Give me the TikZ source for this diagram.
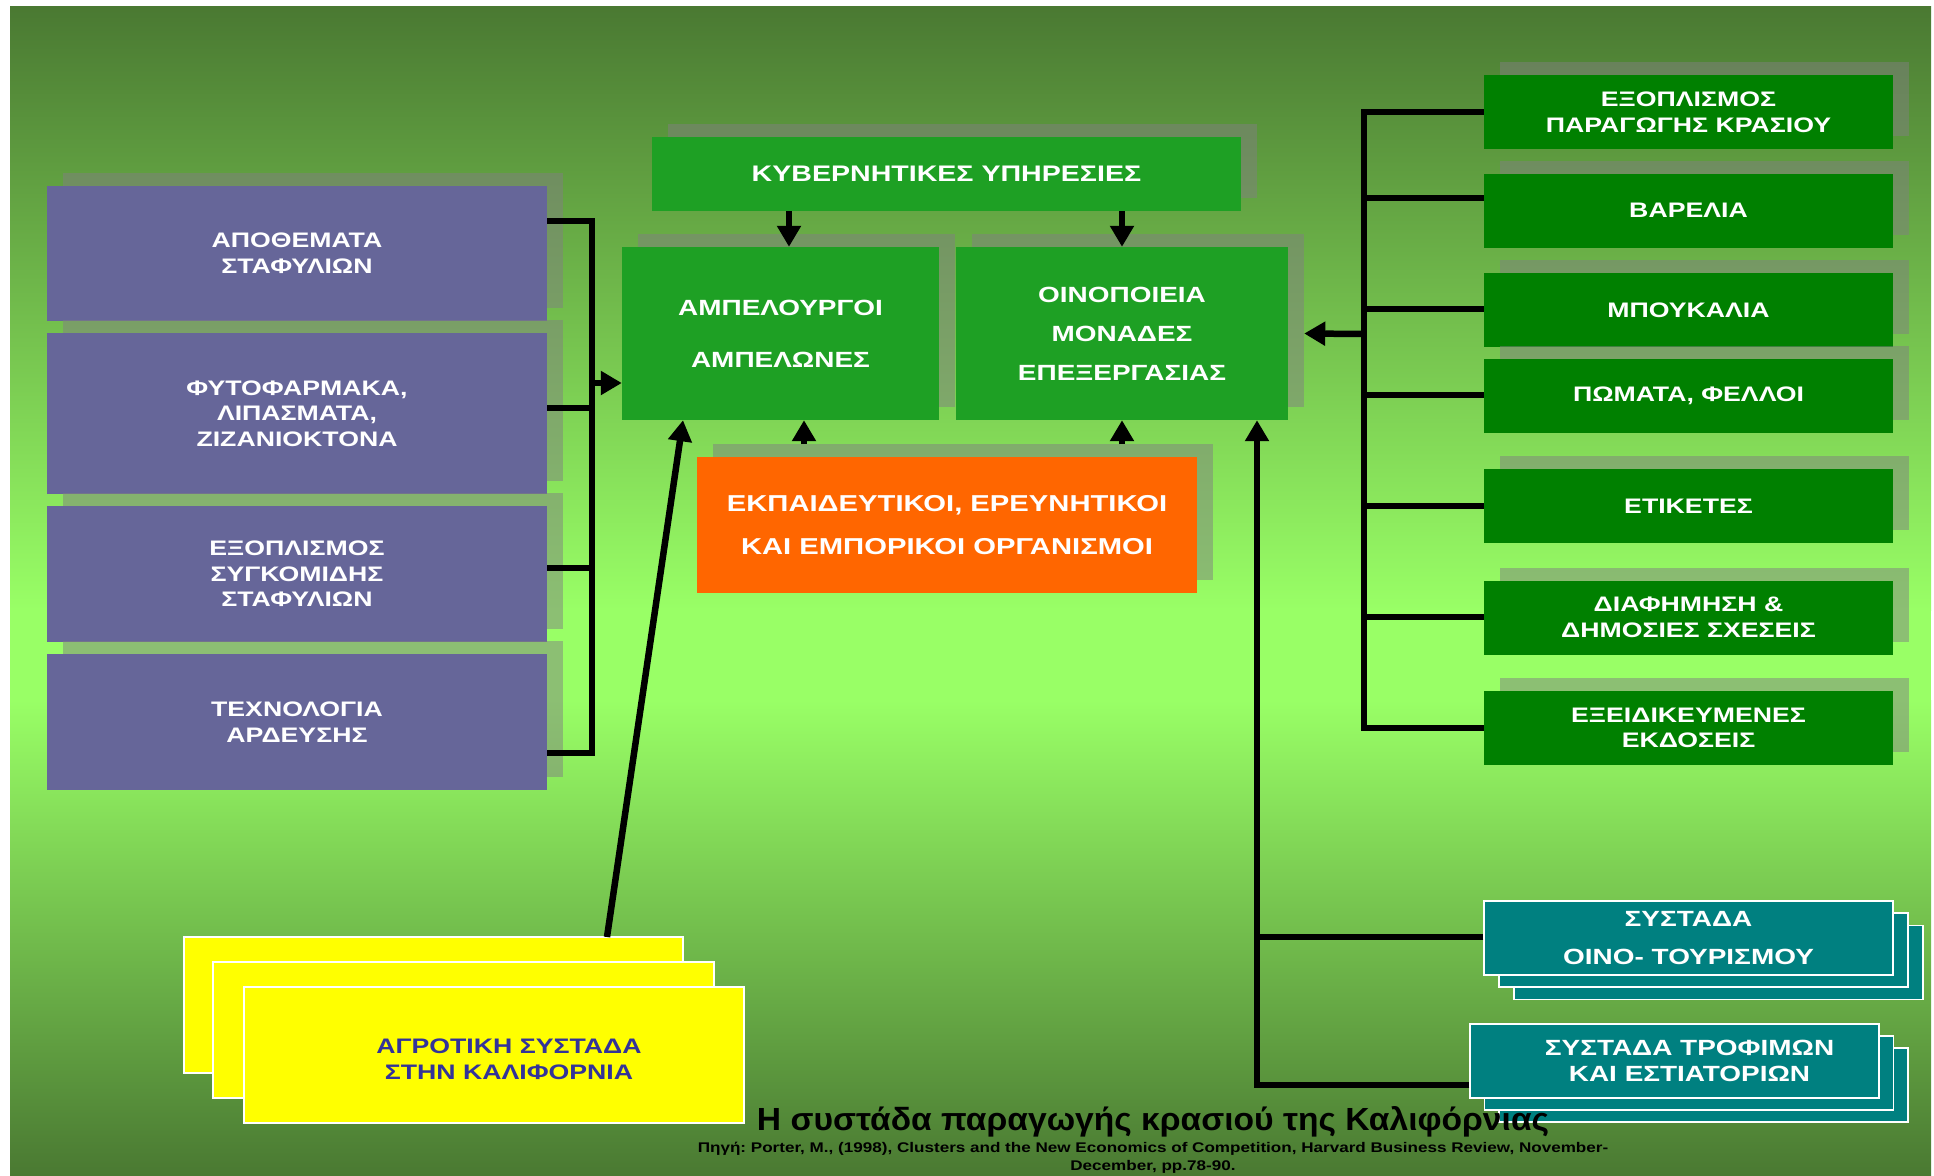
\documentclass[tikz,border=0pt]{standalone}
\usepackage{fontspec}
\setmainfont{Liberation Sans}[FakeStretch=1.27]
\newfontfamily\titlefont{Liberation Sans}[FakeStretch=1.05]
\newfontfamily\sourcefont{Liberation Sans}[FakeStretch=1.22]
\usepackage{tikz}
\usetikzlibrary{arrows.meta,shadows,positioning}
\frenchspacing

\definecolor{bgdark}{RGB}{74,121,50}
\definecolor{bglight}{RGB}{153,255,102}
\definecolor{govgreen}{RGB}{30,160,36}
\definecolor{supgreen}{RGB}{0,128,0}
\definecolor{grapepurple}{RGB}{102,102,153}
\definecolor{eduorange}{RGB}{255,102,0}
\definecolor{clusterteal}{RGB}{0,128,128}
\definecolor{farmyellow}{RGB}{255,255,0}
\definecolor{farmtext}{RGB}{51,51,153}

\begin{document}
\begin{tikzpicture}[x=1pt, y=-1pt,
   >={Triangle[length=21pt,width=23pt]},
   box/.style={rectangle, inner sep=0pt, text=white, align=center,
      font=\bfseries\fontsize{21}{25.6}\selectfont,
      drop shadow={shadow xshift=16pt, shadow yshift=13pt}},
   stackbox/.style={rectangle, inner sep=0pt, draw=white, line width=1.5pt,
      text=white, align=center, font=\bfseries\fontsize{22}{26}\selectfont},
   bus/.style={line width=6.5pt}]
   \useasboundingbox (0,0) rectangle (1934,1175);

   %background
   \shade[top color=bgdark, bottom color=bglight] (10,6) rectangle (1931,610);
   \fill[bglight] (10,609) rectangle (1931,701);
   \shade[top color=bglight, bottom color=bgdark] (10,700) rectangle (1931,1175);

   %suppliers of the vineyards
   \node[box, fill=grapepurple, minimum width=500pt, minimum height=135pt] (p1) at (297,253.5) {ΑΠΟΘΕΜΑΤΑ\\ΣΤΑΦΥΛΙΩΝ};
   \node[box, fill=grapepurple, minimum width=500pt, minimum height=161pt] (p2) at (297,413.5) {ΦΥΤΟΦΑΡΜΑΚΑ,\\ΛΙΠΑΣΜΑΤΑ,\\ΖΙΖΑΝΙΟΚΤΟΝΑ};
   \node[box, fill=grapepurple, minimum width=500pt, minimum height=136pt] (p3) at (297,574) {ΕΞΟΠΛΙΣΜΟΣ\\ΣΥΓΚΟΜΙΔΗΣ\\ΣΤΑΦΥΛΙΩΝ};
   \node[box, fill=grapepurple, minimum width=500pt, minimum height=136pt] (p4) at (297,722) {ΤΕΧΝΟΛΟΓΙΑ\\ΑΡΔΕΥΣΗΣ};

   %core of the cluster
   \node[box, fill=govgreen, minimum width=589pt, minimum height=74pt, font=\bfseries\fontsize{22.5}{26}\selectfont] (kyb) at (946.5,174) {ΚΥΒΕΡΝΗΤΙΚΕΣ ΥΠΗΡΕΣΙΕΣ};
   \node[box, fill=govgreen, minimum width=317pt, minimum height=173pt, font=\bfseries\fontsize{22}{52}\selectfont] (ampel) at (780.5,333.5) {ΑΜΠΕΛΟΥΡΓΟΙ\\ΑΜΠΕΛΩΝΕΣ};
   \node[box, fill=govgreen, minimum width=332pt, minimum height=173pt, font=\bfseries\fontsize{22}{39}\selectfont] (oino) at (1122,333.5) {ΟΙΝΟΠΟΙΕΙΑ\\ΜΟΝΑΔΕΣ\\ΕΠΕΞΕΡΓΑΣΙΑΣ};
   \node[box, fill=eduorange, minimum width=500pt, minimum height=136pt, font=\bfseries\fontsize{23}{43}\selectfont] (ekp) at (947,525) {ΕΚΠΑΙΔΕΥΤΙΚΟΙ, ΕΡΕΥΝΗΤΙΚΟΙ\\ΚΑΙ ΕΜΠΟΡΙΚΟΙ ΟΡΓΑΝΙΣΜΟΙ};

   %suppliers of the wineries
   \node[box, fill=supgreen, minimum width=409pt, minimum height=74pt] (r1) at (1688.5,112) {ΕΞΟΠΛΙΣΜΟΣ\\ΠΑΡΑΓΩΓΗΣ ΚΡΑΣΙΟΥ};
   \node[box, fill=supgreen, minimum width=409pt, minimum height=74pt] (r2) at (1688.5,210.5) {ΒΑΡΕΛΙΑ};
   \node[box, fill=supgreen, minimum width=409pt, minimum height=74pt] (r3) at (1688.5,310) {ΜΠΟΥΚΑΛΙΑ};
   \node[box, fill=supgreen, minimum width=409pt, minimum height=74pt] (r4) at (1688.5,396) {ΠΩΜΑΤΑ, ΦΕΛΛΟΙ};
   \node[box, fill=supgreen, minimum width=409pt, minimum height=74pt] (r5) at (1688.5,506) {ΕΤΙΚΕΤΕΣ};
   \node[box, fill=supgreen, minimum width=409pt, minimum height=74pt] (r6) at (1688.5,617.5) {ΔΙΑΦΗΜΗΣΗ \&\\ΔΗΜΟΣΙΕΣ ΣΧΕΣΕΙΣ};
   \node[box, fill=supgreen, minimum width=409pt, minimum height=74pt] (r7) at (1688.5,728) {ΕΞΕΙΔΙΚΕΥΜΕΝΕΣ\\ΕΚΔΟΣΕΙΣ};

   %related clusters
   \node[stackbox, fill=clusterteal, minimum width=409pt, minimum height=74pt] (t1c) at (1718.5,962.5) {};
   \node[stackbox, fill=clusterteal, minimum width=409pt, minimum height=74pt] (t1b) at (1703.5,950) {};
   \node[stackbox, fill=clusterteal, minimum width=409pt, minimum height=74pt, font=\bfseries\fontsize{22}{38}\selectfont] (t1) at (1688.5,938) {ΣΥΣΤΑΔΑ\\ΟΙΝΟ- ΤΟΥΡΙΣΜΟΥ};
   \node[stackbox, fill=clusterteal, minimum width=409pt, minimum height=74pt] (t2c) at (1703.5,1085) {};
   \node[stackbox, fill=clusterteal, minimum width=409pt, minimum height=74pt] (t2b) at (1689,1073) {};
   \node[stackbox, fill=clusterteal, minimum width=409pt, minimum height=74pt,
      label={[xshift=15pt, text=white, align=center, font=\bfseries\fontsize{22}{26}\selectfont]center:ΣΥΣΤΑΔΑ ΤΡΟΦΙΜΩΝ\\ΚΑΙ ΕΣΤΙΑΤΟΡΙΩΝ}] (t2) at (1674.5,1061) {};

   \node[stackbox, fill=farmyellow, minimum width=499pt, minimum height=136pt] (ya) at (433.5,1005) {};
   \node[stackbox, fill=farmyellow, minimum width=501pt, minimum height=136pt] (yb) at (463.5,1030) {};
   \node[stackbox, fill=farmyellow, minimum width=500pt, minimum height=136pt,
      label={[xshift=15pt, yshift=-4pt, text=farmtext, align=center, font=\bfseries\fontsize{21}{25.6}\selectfont]center:ΑΓΡΟΤΙΚΗ ΣΥΣΤΑΔΑ\\ΣΤΗΝ ΚΑΛΙΦΟΡΝΙΑ}] (yc) at (494,1055) {};

   %caption
   \node[anchor=base, font=\titlefont\bfseries\fontsize{32}{36}\selectfont] (title) at (1153,1130) {Η συστάδα παραγωγής κρασιού της Καλιφόρνιας};
   \node[anchor=north, inner sep=0pt, align=center, font=\sourcefont\bfseries\fontsize{14}{17.5}\selectfont] (source) at (1153,1142) {Πηγή: Porter, M., (1998), Clusters and the New Economics of Competition, Harvard Business Review, November-\\December, pp.78-90.};

   %bus points
   \coordinate (lb1) at (592,221);
   \coordinate (lb2) at (592,408);
   \coordinate (lb3) at (592,568);
   \coordinate (lb4) at (592,753);
   \coordinate (lbo) at (592,383);
   \coordinate (rb1) at (1364,112);
   \coordinate (rb2) at (1364,198);
   \coordinate (rb3) at (1364,309);
   \coordinate (rb4) at (1364,395);
   \coordinate (rb5) at (1364,506);
   \coordinate (rb6) at (1364,617);
   \coordinate (rb7) at (1364,728);
   \coordinate (rbo) at (1364,334);
   \coordinate (bb1) at (1257,937);
   \coordinate (bb2) at (1257,1085);
   \coordinate (ka) at (789,211);
   \coordinate (ek1) at (804,444);
   \coordinate (ek2) at (1122,444);
   \coordinate (ylow) at (607,937);
   \coordinate (yhigh) at (683,420);
   \coordinate (oinoshade) at ([xshift=16pt]oino.east);

   %left bus
   \draw[bus] (p1.east |- lb1) -- (lb1) -- (lb4) -- (p4.east |- lb4);
   \draw[bus] (p2.east |- lb2) -- (lb2);
   \draw[bus] (p3.east |- lb3) -- (lb3);
   %right bus
   \draw[bus] (r1.west |- rb1) -- (rb1) -- (rb7) -- (r7.west |- rb7);
   \draw[bus] (r2.west |- rb2) -- (rb2);
   \draw[bus] (r3.west |- rb3) -- (rb3);
   \draw[bus] (r4.west |- rb4) -- (rb4);
   \draw[bus] (r5.west |- rb5) -- (rb5);
   \draw[bus] (r6.west |- rb6) -- (rb6);
   %clusters bus
   \draw[bus] (t1.west |- bb1) -- (bb1);
   \draw[bus,->] (t2.west |- bb2) -- (bb2) -- (oino.south -| bb2);

  \path[->, bus]
    (lbo) edge node {} (ampel.west |- lbo)
    (rbo) edge node {} (oinoshade)

    (kyb.south -| ka) edge node {} (ampel.north -| ka)
    (kyb.south -| oino) edge node {} (oino.north)

    (ek1) edge node {} (ampel.south -| ek1)
    (ek2) edge node {} (oino.south -| ek2)

    (ylow) edge node {} (ampel.south -| yhigh);
\end{tikzpicture}
\end{document}
